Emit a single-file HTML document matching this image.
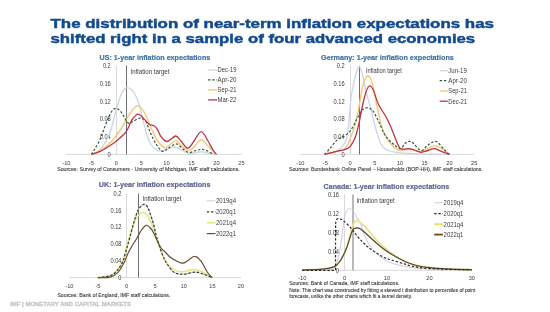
<!DOCTYPE html>
<html><head><meta charset="utf-8"><style>
html,body{margin:0;padding:0;background:#fff;width:550px;height:312px;overflow:hidden}
svg{display:block;will-change:transform}
text{font-family:"Liberation Sans",sans-serif}
</style></head><body>
<svg width="550" height="312" viewBox="0 0 550 312" font-family="Liberation Sans, sans-serif">
<rect width="550" height="312" fill="#ffffff"/>
<text x="50.5" y="28.2" font-size="13.20" fill="#134a8e" text-anchor="start" font-weight="bold" textLength="443.5" lengthAdjust="spacingAndGlyphs" stroke="#134a8e" stroke-width="0.45">The distribution of near-term inflation expectations has</text>
<text x="50.5" y="42.7" font-size="13.20" fill="#134a8e" text-anchor="start" font-weight="bold" textLength="424.7" lengthAdjust="spacingAndGlyphs" stroke="#134a8e" stroke-width="0.45">shifted right in a sample of four advanced economies</text>
<text x="99.6" y="59.9" font-size="7.40" fill="#3f73a6" text-anchor="start" font-weight="bold" textLength="110.7" lengthAdjust="spacingAndGlyphs" stroke="#3f73a6" stroke-width="0.2">US: 1-year inflation expectations</text>
<text x="321.1" y="60.0" font-size="7.40" fill="#3f73a6" text-anchor="start" font-weight="bold" textLength="132.7" lengthAdjust="spacingAndGlyphs" stroke="#3f73a6" stroke-width="0.2">Germany: 1-year inflation expectations</text>
<text x="98.8" y="186.5" font-size="7.40" fill="#5f6596" text-anchor="start" font-weight="bold" textLength="111.7" lengthAdjust="spacingAndGlyphs" stroke="#5f6596" stroke-width="0.2">UK: 1-year inflation expectations</text>
<text x="323.6" y="188.5" font-size="7.40" fill="#5c6892" text-anchor="start" font-weight="bold" textLength="125.7" lengthAdjust="spacingAndGlyphs" stroke="#5c6892" stroke-width="0.2">Canada: 1-year inflation expectations</text>
<line x1="66.4" y1="154.4" x2="241.4" y2="154.4" stroke="#d9d9d9" stroke-width="1.00"/>
<line x1="116.5" y1="65.5" x2="116.5" y2="154.4" stroke="#d9d9d9" stroke-width="1.00"/>
<text x="66.4" y="164.6" font-size="6.20" fill="#404040" text-anchor="middle" font-weight="normal" textLength="8.2" lengthAdjust="spacingAndGlyphs">-10</text>
<text x="91.4" y="164.6" font-size="6.20" fill="#404040" text-anchor="middle" font-weight="normal" textLength="5.1" lengthAdjust="spacingAndGlyphs">-5</text>
<text x="116.4" y="164.6" font-size="6.20" fill="#404040" text-anchor="middle" font-weight="normal" textLength="3.2" lengthAdjust="spacingAndGlyphs">0</text>
<text x="141.4" y="164.6" font-size="6.20" fill="#404040" text-anchor="middle" font-weight="normal" textLength="3.2" lengthAdjust="spacingAndGlyphs">5</text>
<text x="166.4" y="164.6" font-size="6.20" fill="#404040" text-anchor="middle" font-weight="normal" textLength="6.3" lengthAdjust="spacingAndGlyphs">10</text>
<text x="191.4" y="164.6" font-size="6.20" fill="#404040" text-anchor="middle" font-weight="normal" textLength="6.3" lengthAdjust="spacingAndGlyphs">15</text>
<text x="216.4" y="164.6" font-size="6.20" fill="#404040" text-anchor="middle" font-weight="normal" textLength="6.3" lengthAdjust="spacingAndGlyphs">20</text>
<text x="241.4" y="164.6" font-size="6.20" fill="#404040" text-anchor="middle" font-weight="normal" textLength="6.3" lengthAdjust="spacingAndGlyphs">25</text>
<text x="110.8" y="156.6" font-size="6.30" fill="#404040" text-anchor="end" font-weight="normal" textLength="3.2" lengthAdjust="spacingAndGlyphs">0</text>
<text x="110.8" y="138.9" font-size="6.30" fill="#404040" text-anchor="end" font-weight="normal" textLength="11.1" lengthAdjust="spacingAndGlyphs">0.04</text>
<text x="110.8" y="121.3" font-size="6.30" fill="#404040" text-anchor="end" font-weight="normal" textLength="11.1" lengthAdjust="spacingAndGlyphs">0.08</text>
<text x="110.8" y="103.6" font-size="6.30" fill="#404040" text-anchor="end" font-weight="normal" textLength="11.1" lengthAdjust="spacingAndGlyphs">0.12</text>
<text x="110.8" y="86.0" font-size="6.30" fill="#404040" text-anchor="end" font-weight="normal" textLength="11.1" lengthAdjust="spacingAndGlyphs">0.16</text>
<text x="110.8" y="68.3" font-size="6.30" fill="#404040" text-anchor="end" font-weight="normal" textLength="7.9" lengthAdjust="spacingAndGlyphs">0.2</text>
<line x1="126.5" y1="65.5" x2="126.5" y2="154.4" stroke="#6f6f6f" stroke-width="1.00"/>
<text x="130.5" y="73.5" font-size="6.60" fill="#3c3c3c" text-anchor="start" font-weight="normal" textLength="39.0" lengthAdjust="spacingAndGlyphs">Inflation target</text>
<path d="M91.4 154.4 C92.1 154.3 93.9 154.3 95.3 153.6 C96.7 152.9 98.6 151.4 100.0 150.0 C101.4 148.6 102.5 146.6 103.5 145.0 C104.5 143.4 105.3 142.2 106.3 140.4 C107.3 138.7 108.4 136.7 109.3 134.5 C110.2 132.3 110.9 130.1 111.8 127.0 C112.7 123.9 113.4 119.9 114.5 116.0 C115.6 112.1 117.0 107.2 118.2 103.5 C119.4 99.8 120.1 96.1 121.5 93.5 C122.9 90.9 125.0 88.3 126.8 87.7 C128.6 87.1 130.5 88.6 132.0 90.0 C133.5 91.4 134.6 93.3 135.8 96.0 C137.1 98.7 138.3 102.0 139.5 106.0 C140.7 110.0 141.9 115.5 143.0 120.0 C144.1 124.5 145.0 129.2 146.2 133.0 C147.4 136.8 148.5 140.0 150.0 142.7 C151.5 145.4 153.2 147.6 155.0 149.0 C156.8 150.4 158.8 151.2 161.0 151.2 C163.2 151.2 165.6 149.7 168.0 149.0 C170.4 148.3 173.1 146.7 175.6 147.0 C178.1 147.3 180.6 149.9 183.0 151.0 C185.4 152.1 187.9 153.5 190.2 153.7 C192.5 153.9 195.0 152.5 197.0 152.2 C199.0 151.9 200.4 151.6 202.4 151.8 C204.4 152.0 206.9 153.0 209.0 153.4 C211.1 153.8 214.0 154.2 215.0 154.4" fill="none" stroke="#c9d6e6" stroke-width="1.30" stroke-linejoin="round" stroke-linecap="butt" opacity="1.00"/>
<path d="M91.4 154.4 C92.8 153.8 97.6 151.9 100.0 150.6 C102.4 149.3 103.9 148.2 106.0 146.5 C108.1 144.8 109.9 143.4 112.4 140.5 C114.9 137.6 118.6 132.5 120.9 129.0 C123.2 125.5 124.6 122.3 126.3 119.5 C128.0 116.7 129.3 114.2 131.0 112.0 C132.7 109.8 135.1 107.1 136.6 106.2 C138.1 105.3 138.6 105.6 140.0 106.8 C141.4 108.0 143.3 110.3 145.0 113.5 C146.7 116.7 148.2 121.5 150.3 126.0 C152.4 130.5 154.9 136.9 157.3 140.5 C159.7 144.1 162.5 146.9 164.6 147.6 C166.7 148.3 168.1 145.6 170.0 144.5 C171.9 143.4 174.0 140.5 176.2 140.9 C178.4 141.3 180.9 145.4 183.0 147.0 C185.1 148.6 187.0 150.8 189.0 150.6 C191.0 150.4 193.0 147.8 195.0 146.0 C197.0 144.2 199.0 139.7 201.2 139.7 C203.4 139.7 205.8 143.8 208.0 146.0 C210.2 148.2 213.3 151.6 214.6 153.0 C215.8 154.4 215.3 154.2 215.5 154.4" fill="none" stroke="#f4c777" stroke-width="1.40" stroke-linejoin="round" stroke-linecap="butt" opacity="1.00"/>
<path d="M91.4 154.4 C91.9 153.6 93.3 151.5 94.5 149.5 C95.7 147.5 97.3 144.8 98.5 142.5 C99.7 140.2 100.6 138.2 101.5 136.0 C102.4 133.8 102.6 132.6 103.8 129.5 C105.0 126.4 107.1 120.6 108.5 117.5 C109.9 114.4 110.8 112.5 112.0 111.0 C113.2 109.5 114.5 108.3 115.8 108.3 C117.1 108.3 118.6 109.4 120.0 110.8 C121.4 112.2 122.6 114.4 124.0 116.5 C125.4 118.6 127.0 122.4 128.5 123.2 C130.0 124.0 131.2 122.3 133.0 121.5 C134.8 120.7 137.4 118.1 139.5 118.1 C141.6 118.0 143.8 118.7 145.6 121.2 C147.4 123.7 148.8 129.2 150.5 133.0 C152.2 136.8 154.2 140.9 156.1 143.9 C158.0 146.9 160.2 150.4 162.2 151.2 C164.2 152.0 165.7 149.7 168.0 148.5 C170.3 147.3 173.7 143.8 176.2 143.9 C178.7 144.0 180.9 147.6 183.0 149.0 C185.1 150.4 186.8 152.2 189.0 152.5 C191.2 152.8 193.8 151.0 196.0 150.5 C198.2 150.0 200.4 149.3 202.4 149.4 C204.4 149.5 206.2 150.4 208.0 151.2 C209.8 152.0 212.4 153.8 213.3 154.3" fill="none" stroke="#2f5a3e" stroke-width="1.20" stroke-dasharray="2.4 1.8" stroke-linejoin="round" stroke-linecap="butt" opacity="1.00"/>
<path d="M91.4 154.4 C92.9 153.9 96.7 153.1 100.2 151.4 C103.7 149.7 109.4 146.0 112.4 144.0 C115.5 142.0 116.4 141.0 118.5 139.2 C120.6 137.4 123.3 135.1 124.9 133.3 C126.5 131.5 126.8 130.8 128.0 128.5 C129.2 126.2 130.5 121.9 132.2 119.5 C133.9 117.1 136.2 114.2 138.2 114.2 C140.2 114.2 142.6 117.7 144.4 119.4 C146.2 121.1 147.5 123.1 149.2 124.2 C150.9 125.3 153.0 125.0 154.5 126.0 C156.0 127.0 156.9 128.7 158.0 130.5 C159.1 132.3 159.5 134.8 161.0 136.6 C162.5 138.4 164.6 141.6 167.0 141.5 C169.4 141.4 173.3 136.1 175.6 136.0 C177.9 135.9 179.0 139.0 181.0 141.0 C183.0 143.0 185.6 148.2 187.8 148.2 C190.0 148.2 191.8 143.8 194.0 141.0 C196.2 138.2 198.9 131.7 201.2 131.7 C203.5 131.7 206.0 137.9 208.0 141.0 C210.0 144.1 211.6 147.8 213.0 150.0 C214.4 152.2 215.9 153.7 216.5 154.4" fill="none" stroke="#bf3345" stroke-width="1.30" stroke-linejoin="round" stroke-linecap="butt" opacity="1.00"/>
<line x1="208.1" y1="70.1" x2="217.3" y2="70.1" stroke="#c9d6e6" stroke-width="1.30"/>
<text x="217.6" y="72.4" font-size="6.60" fill="#3c3c3c" text-anchor="start" font-weight="normal" textLength="18.8" lengthAdjust="spacingAndGlyphs">Dec-19</text>
<line x1="208.1" y1="79.9" x2="217.3" y2="79.9" stroke="#2f5a3e" stroke-width="1.20" stroke-dasharray="2.4 1.8"/>
<text x="217.6" y="82.2" font-size="6.60" fill="#3c3c3c" text-anchor="start" font-weight="normal" textLength="18.8" lengthAdjust="spacingAndGlyphs">Apr-20</text>
<line x1="208.1" y1="89.9" x2="217.3" y2="89.9" stroke="#f4c777" stroke-width="1.40"/>
<text x="217.6" y="92.2" font-size="6.60" fill="#3c3c3c" text-anchor="start" font-weight="normal" textLength="18.8" lengthAdjust="spacingAndGlyphs">Sep-21</text>
<line x1="208.1" y1="99.9" x2="217.3" y2="99.9" stroke="#bf3345" stroke-width="1.30"/>
<text x="217.6" y="102.2" font-size="6.60" fill="#3c3c3c" text-anchor="start" font-weight="normal" textLength="18.8" lengthAdjust="spacingAndGlyphs">Mar-22</text>
<text x="57.2" y="171.2" font-size="5.80" fill="#3c3c3c" text-anchor="start" font-weight="normal" textLength="182.6" lengthAdjust="spacingAndGlyphs" stroke="#3c3c3c" stroke-width="0.12">Sources: Survey of Consumers - University of Michigan, IMF staff calculations.</text>
<line x1="300.4" y1="154.4" x2="474.2" y2="154.4" stroke="#d9d9d9" stroke-width="1.00"/>
<line x1="350.5" y1="65.8" x2="350.5" y2="154.4" stroke="#d9d9d9" stroke-width="1.00"/>
<text x="300.4" y="164.8" font-size="6.20" fill="#404040" text-anchor="middle" font-weight="normal" textLength="8.2" lengthAdjust="spacingAndGlyphs">-10</text>
<text x="325.3" y="164.8" font-size="6.20" fill="#404040" text-anchor="middle" font-weight="normal" textLength="5.1" lengthAdjust="spacingAndGlyphs">-5</text>
<text x="350.1" y="164.8" font-size="6.20" fill="#404040" text-anchor="middle" font-weight="normal" textLength="3.2" lengthAdjust="spacingAndGlyphs">0</text>
<text x="374.9" y="164.8" font-size="6.20" fill="#404040" text-anchor="middle" font-weight="normal" textLength="3.2" lengthAdjust="spacingAndGlyphs">5</text>
<text x="399.8" y="164.8" font-size="6.20" fill="#404040" text-anchor="middle" font-weight="normal" textLength="6.3" lengthAdjust="spacingAndGlyphs">10</text>
<text x="424.6" y="164.8" font-size="6.20" fill="#404040" text-anchor="middle" font-weight="normal" textLength="6.3" lengthAdjust="spacingAndGlyphs">15</text>
<text x="449.4" y="164.8" font-size="6.20" fill="#404040" text-anchor="middle" font-weight="normal" textLength="6.3" lengthAdjust="spacingAndGlyphs">20</text>
<text x="474.2" y="164.8" font-size="6.20" fill="#404040" text-anchor="middle" font-weight="normal" textLength="6.3" lengthAdjust="spacingAndGlyphs">25</text>
<text x="344.6" y="156.6" font-size="6.30" fill="#404040" text-anchor="end" font-weight="normal" textLength="3.2" lengthAdjust="spacingAndGlyphs">0</text>
<text x="344.6" y="138.9" font-size="6.30" fill="#404040" text-anchor="end" font-weight="normal" textLength="11.1" lengthAdjust="spacingAndGlyphs">0.04</text>
<text x="344.6" y="121.3" font-size="6.30" fill="#404040" text-anchor="end" font-weight="normal" textLength="11.1" lengthAdjust="spacingAndGlyphs">0.08</text>
<text x="344.6" y="103.6" font-size="6.30" fill="#404040" text-anchor="end" font-weight="normal" textLength="11.1" lengthAdjust="spacingAndGlyphs">0.12</text>
<text x="344.6" y="86.0" font-size="6.30" fill="#404040" text-anchor="end" font-weight="normal" textLength="11.1" lengthAdjust="spacingAndGlyphs">0.16</text>
<text x="344.6" y="68.3" font-size="6.30" fill="#404040" text-anchor="end" font-weight="normal" textLength="7.9" lengthAdjust="spacingAndGlyphs">0.2</text>
<line x1="359.5" y1="65.8" x2="359.5" y2="154.4" stroke="#6f6f6f" stroke-width="1.00"/>
<text x="365.9" y="72.6" font-size="6.60" fill="#3c3c3c" text-anchor="start" font-weight="normal" textLength="35.9" lengthAdjust="spacingAndGlyphs">Inflation target</text>
<path d="M324.6 154.4 C325.8 154.2 329.6 154.0 332.0 153.2 C334.4 152.4 337.3 150.9 339.2 149.5 C341.1 148.1 342.3 146.8 343.5 145.0 C344.7 143.2 345.7 141.8 346.5 139.0 C347.3 136.2 347.8 131.7 348.3 128.0 C348.8 124.3 348.9 121.3 349.3 117.0 C349.7 112.7 350.1 106.3 350.6 102.0 C351.1 97.7 351.5 94.8 352.2 91.0 C352.9 87.2 353.8 82.4 354.6 79.0 C355.4 75.6 356.3 72.6 357.0 70.5 C357.7 68.4 358.3 66.3 359.0 66.2 C359.7 66.1 360.3 68.1 361.0 70.0 C361.7 71.9 362.5 74.5 363.2 77.5 C363.9 80.5 364.6 84.8 365.3 88.0 C366.0 91.2 366.6 93.2 367.6 97.0 C368.6 100.8 370.2 106.5 371.3 111.0 C372.4 115.5 373.5 120.2 374.5 124.0 C375.5 127.8 376.3 130.7 377.4 134.0 C378.5 137.3 379.6 141.5 380.9 144.0 C382.2 146.5 383.8 147.7 385.0 148.8 C386.2 149.9 386.7 150.0 388.2 150.5 C389.7 151.0 392.0 151.6 394.0 152.0 C396.0 152.4 396.1 152.5 400.4 152.8 C404.7 153.1 411.8 153.5 420.0 153.8 C428.2 154.1 444.5 154.3 449.4 154.4" fill="none" stroke="#c9d6e6" stroke-width="1.30" stroke-linejoin="round" stroke-linecap="butt" opacity="1.00"/>
<path d="M324.6 154.4 C326.3 154.0 332.3 152.7 335.0 152.0 C337.7 151.3 339.3 151.1 341.0 150.5 C342.7 149.9 343.8 150.4 345.3 148.5 C346.8 146.6 348.6 143.0 350.2 139.0 C351.8 135.0 353.8 129.1 355.1 124.4 C356.4 119.7 357.0 117.1 358.2 111.0 C359.4 104.9 361.2 93.2 362.3 88.0 C363.4 82.8 364.1 81.5 365.0 79.5 C365.9 77.5 366.8 76.2 367.7 76.0 C368.6 75.8 369.4 76.2 370.3 78.0 C371.2 79.8 372.1 82.9 373.0 86.5 C373.9 90.1 374.7 95.0 375.6 99.5 C376.5 104.0 377.5 108.5 378.6 113.3 C379.7 118.1 380.6 124.0 382.2 128.5 C383.8 133.0 386.2 137.4 388.2 140.5 C390.2 143.6 392.2 145.4 394.0 147.0 C395.8 148.6 396.6 149.9 399.1 150.3 C401.6 150.7 405.2 149.0 408.9 149.2 C412.6 149.4 417.9 151.6 421.1 151.5 C424.3 151.4 425.8 149.5 428.0 148.5 C430.2 147.5 432.2 145.6 434.5 145.6 C436.8 145.6 439.3 147.1 441.8 148.6 C444.3 150.1 448.1 153.4 449.4 154.4" fill="none" stroke="#f4c777" stroke-width="1.40" stroke-linejoin="round" stroke-linecap="butt" opacity="1.00"/>
<path d="M324.6 154.4 C325.6 153.3 328.8 149.9 330.7 147.6 C332.6 145.3 334.5 142.5 336.2 140.8 C337.9 139.1 339.5 138.4 341.0 137.5 C342.5 136.6 343.6 136.8 345.3 135.4 C347.0 134.0 349.5 132.0 351.4 129.3 C353.3 126.6 355.0 122.5 356.7 119.4 C358.4 116.3 359.9 112.7 361.5 110.8 C363.1 108.9 364.9 108.1 366.4 107.8 C367.9 107.5 369.3 108.1 370.5 108.8 C371.7 109.5 372.3 109.9 373.7 112.0 C375.1 114.1 376.9 118.0 378.6 121.5 C380.3 125.0 382.4 130.2 384.0 133.2 C385.6 136.2 386.8 137.6 388.5 139.5 C390.2 141.4 392.3 143.3 394.3 144.8 C396.3 146.3 398.6 148.8 400.4 148.6 C402.2 148.4 403.6 144.7 405.0 143.5 C406.4 142.3 407.6 141.4 408.9 141.3 C410.2 141.2 411.0 141.5 413.0 143.0 C415.0 144.5 418.6 150.2 421.1 150.5 C423.6 150.8 425.6 146.5 428.0 145.0 C430.4 143.5 433.4 141.0 435.7 141.3 C438.0 141.6 440.1 145.1 441.8 146.8 C443.5 148.5 444.7 150.2 446.0 151.5 C447.3 152.8 448.8 153.9 449.4 154.4" fill="none" stroke="#2f5a3e" stroke-width="1.20" stroke-dasharray="2.4 1.8" stroke-linejoin="round" stroke-linecap="butt" opacity="1.00"/>
<path d="M324.6 154.4 C326.2 154.0 330.9 152.6 334.4 151.8 C337.8 151.0 342.7 150.3 345.3 149.4 C347.9 148.5 348.6 148.3 350.2 146.4 C351.8 144.5 353.7 141.5 355.1 137.8 C356.5 134.1 357.6 129.0 358.7 124.4 C359.8 119.9 360.4 115.7 361.5 110.5 C362.6 105.3 364.2 97.6 365.5 93.5 C366.8 89.4 368.0 86.5 369.3 86.0 C370.6 85.5 372.0 87.4 373.5 90.5 C375.0 93.6 376.4 100.2 378.5 104.5 C380.6 108.8 383.8 112.8 385.8 116.5 C387.9 120.2 389.4 123.5 390.8 126.7 C392.2 129.9 393.2 133.0 394.3 135.8 C395.4 138.6 396.5 141.4 397.5 143.5 C398.5 145.6 399.3 147.7 400.4 148.6 C401.5 149.5 402.6 149.2 404.0 149.2 C405.4 149.2 407.2 148.5 408.9 148.6 C410.6 148.7 412.0 149.4 414.0 150.0 C416.0 150.6 418.8 152.2 421.1 152.3 C423.4 152.4 425.8 151.1 428.0 150.5 C430.2 149.9 432.2 148.4 434.5 148.6 C436.8 148.8 439.3 150.7 441.8 151.7 C444.3 152.7 448.1 153.9 449.4 154.4" fill="none" stroke="#bf3345" stroke-width="1.30" stroke-linejoin="round" stroke-linecap="butt" opacity="1.00"/>
<line x1="439.7" y1="70.7" x2="447.8" y2="70.7" stroke="#c9d6e6" stroke-width="1.30"/>
<text x="448.3" y="73.0" font-size="6.60" fill="#3c3c3c" text-anchor="start" font-weight="normal" textLength="18.6" lengthAdjust="spacingAndGlyphs">Jun-19</text>
<line x1="439.7" y1="80.7" x2="447.8" y2="80.7" stroke="#2f5a3e" stroke-width="1.20" stroke-dasharray="2.4 1.8"/>
<text x="448.3" y="83.0" font-size="6.60" fill="#3c3c3c" text-anchor="start" font-weight="normal" textLength="18.6" lengthAdjust="spacingAndGlyphs">Apr-20</text>
<line x1="439.7" y1="91.0" x2="447.8" y2="91.0" stroke="#f4c777" stroke-width="1.40"/>
<text x="448.3" y="93.3" font-size="6.60" fill="#3c3c3c" text-anchor="start" font-weight="normal" textLength="18.6" lengthAdjust="spacingAndGlyphs">Sep-21</text>
<line x1="439.7" y1="101.2" x2="447.8" y2="101.2" stroke="#bf3345" stroke-width="1.30"/>
<text x="448.3" y="103.5" font-size="6.60" fill="#3c3c3c" text-anchor="start" font-weight="normal" textLength="18.6" lengthAdjust="spacingAndGlyphs">Dec-21</text>
<text x="289.0" y="171.2" font-size="5.80" fill="#3c3c3c" text-anchor="start" font-weight="normal" textLength="193.8" lengthAdjust="spacingAndGlyphs" stroke="#3c3c3c" stroke-width="0.12">Sources: Bundesbank Online Panel – Households (BOP-HH), IMF staff calculations.</text>
<line x1="69.4" y1="277.6" x2="241.0" y2="277.6" stroke="#d9d9d9" stroke-width="1.00"/>
<line x1="126.5" y1="193.5" x2="126.5" y2="277.6" stroke="#d9d9d9" stroke-width="1.00"/>
<text x="69.4" y="287.9" font-size="6.20" fill="#404040" text-anchor="middle" font-weight="normal" textLength="8.2" lengthAdjust="spacingAndGlyphs">-10</text>
<text x="98.0" y="287.9" font-size="6.20" fill="#404040" text-anchor="middle" font-weight="normal" textLength="5.1" lengthAdjust="spacingAndGlyphs">-5</text>
<text x="126.6" y="287.9" font-size="6.20" fill="#404040" text-anchor="middle" font-weight="normal" textLength="3.2" lengthAdjust="spacingAndGlyphs">0</text>
<text x="155.2" y="287.9" font-size="6.20" fill="#404040" text-anchor="middle" font-weight="normal" textLength="3.2" lengthAdjust="spacingAndGlyphs">5</text>
<text x="183.8" y="287.9" font-size="6.20" fill="#404040" text-anchor="middle" font-weight="normal" textLength="6.3" lengthAdjust="spacingAndGlyphs">10</text>
<text x="212.4" y="287.9" font-size="6.20" fill="#404040" text-anchor="middle" font-weight="normal" textLength="6.3" lengthAdjust="spacingAndGlyphs">15</text>
<text x="241.0" y="287.9" font-size="6.20" fill="#404040" text-anchor="middle" font-weight="normal" textLength="6.3" lengthAdjust="spacingAndGlyphs">20</text>
<text x="121.5" y="279.8" font-size="6.30" fill="#404040" text-anchor="end" font-weight="normal" textLength="3.2" lengthAdjust="spacingAndGlyphs">0</text>
<text x="121.5" y="263.0" font-size="6.30" fill="#404040" text-anchor="end" font-weight="normal" textLength="11.1" lengthAdjust="spacingAndGlyphs">0.04</text>
<text x="121.5" y="246.2" font-size="6.30" fill="#404040" text-anchor="end" font-weight="normal" textLength="11.1" lengthAdjust="spacingAndGlyphs">0.08</text>
<text x="121.5" y="229.3" font-size="6.30" fill="#404040" text-anchor="end" font-weight="normal" textLength="11.1" lengthAdjust="spacingAndGlyphs">0.12</text>
<text x="121.5" y="212.5" font-size="6.30" fill="#404040" text-anchor="end" font-weight="normal" textLength="11.1" lengthAdjust="spacingAndGlyphs">0.16</text>
<text x="121.5" y="195.7" font-size="6.30" fill="#404040" text-anchor="end" font-weight="normal" textLength="7.9" lengthAdjust="spacingAndGlyphs">0.2</text>
<line x1="138.5" y1="193.5" x2="138.5" y2="277.6" stroke="#6f6f6f" stroke-width="1.00"/>
<text x="142.5" y="200.9" font-size="6.60" fill="#3c3c3c" text-anchor="start" font-weight="normal" textLength="39.0" lengthAdjust="spacingAndGlyphs">Inflation target</text>
<path d="M97.8 277.6 C99.2 277.4 103.6 277.1 106.0 276.6 C108.4 276.1 110.4 276.0 112.4 274.8 C114.4 273.6 116.3 271.7 118.0 269.5 C119.7 267.3 121.5 264.6 122.8 261.5 C124.1 258.4 124.8 254.9 126.0 251.0 C127.2 247.1 128.4 242.8 129.7 238.0 C131.0 233.2 132.6 226.7 134.0 222.0 C135.4 217.3 136.7 212.6 138.3 209.7 C139.9 206.8 142.3 204.8 143.8 204.3 C145.3 203.9 146.4 205.3 147.5 207.0 C148.6 208.7 149.5 211.8 150.5 214.6 C151.5 217.4 152.5 220.3 153.5 224.0 C154.5 227.7 155.1 231.5 156.5 236.5 C157.9 241.5 160.4 249.5 162.2 254.1 C163.9 258.6 165.0 260.7 167.0 263.8 C169.0 266.9 171.6 270.8 174.4 272.5 C177.2 274.2 180.7 274.3 184.1 274.2 C187.5 274.1 191.8 272.1 195.0 272.1 C198.2 272.1 200.8 273.3 203.6 274.2 C206.4 275.1 210.7 277.0 212.1 277.6" fill="none" stroke="#d0d0d0" stroke-width="1.20" stroke-linejoin="round" stroke-linecap="butt" opacity="1.00"/>
<path d="M97.8 277.6 C99.2 277.4 103.6 276.9 106.0 276.4 C108.4 275.9 110.4 275.6 112.4 274.4 C114.4 273.2 116.3 271.3 118.0 269.0 C119.7 266.7 121.5 263.9 122.8 260.8 C124.1 257.7 125.0 254.3 126.0 250.5 C127.0 246.7 127.8 242.4 129.1 238.0 C130.3 233.6 132.0 227.8 133.5 224.0 C135.0 220.2 136.8 217.5 138.3 215.5 C139.8 213.5 141.1 212.4 142.5 212.2 C143.9 212.0 145.2 213.1 146.5 214.5 C147.8 215.9 148.8 216.8 150.5 220.7 C152.2 224.6 154.8 233.1 156.5 238.0 C158.2 242.9 159.7 246.5 161.0 250.0 C162.3 253.5 163.1 256.3 164.5 259.0 C165.9 261.7 167.6 264.4 169.5 266.3 C171.4 268.2 173.8 269.7 176.0 270.6 C178.2 271.5 180.0 272.0 182.9 271.8 C185.8 271.6 190.2 269.4 193.5 269.4 C196.8 269.4 199.3 270.6 202.4 272.0 C205.5 273.4 210.5 276.7 212.1 277.6" fill="none" stroke="#e2e878" stroke-width="1.50" stroke-linejoin="round" stroke-linecap="butt" opacity="1.00"/>
<path d="M97.8 277.6 C99.2 277.4 103.6 277.1 106.0 276.6 C108.4 276.1 110.4 276.0 112.4 274.8 C114.4 273.6 116.3 271.7 118.0 269.5 C119.7 267.3 121.5 264.6 122.8 261.5 C124.1 258.4 124.8 254.9 126.0 251.0 C127.2 247.1 128.4 242.8 129.7 238.0 C131.0 233.2 132.6 226.7 134.0 222.0 C135.4 217.3 136.7 212.6 138.3 209.7 C139.9 206.8 142.3 204.8 143.8 204.3 C145.3 203.9 146.4 205.3 147.5 207.0 C148.6 208.7 149.5 211.8 150.5 214.6 C151.5 217.4 152.5 220.3 153.5 224.0 C154.5 227.7 155.1 231.5 156.5 236.5 C157.9 241.5 160.4 249.5 162.2 254.1 C163.9 258.6 165.0 260.7 167.0 263.8 C169.0 266.9 171.6 270.8 174.4 272.5 C177.2 274.2 180.7 274.3 184.1 274.2 C187.5 274.1 191.8 272.1 195.0 272.1 C198.2 272.1 200.8 273.3 203.6 274.2 C206.4 275.1 210.7 277.0 212.1 277.6" fill="none" stroke="#2e3a40" stroke-width="1.20" stroke-dasharray="2.4 1.8" stroke-linejoin="round" stroke-linecap="butt" opacity="1.00"/>
<path d="M97.8 277.6 C99.8 277.5 106.6 278.1 110.0 277.2 C113.4 276.3 115.6 274.9 118.0 272.4 C120.4 269.9 122.8 265.1 124.4 262.0 C126.0 258.9 126.4 256.7 127.7 254.0 C129.0 251.3 130.4 248.7 132.0 246.0 C133.6 243.3 135.4 240.7 137.0 238.0 C138.6 235.3 140.0 232.1 141.5 230.0 C143.0 227.9 144.8 225.7 146.2 225.3 C147.6 224.9 148.8 226.5 149.9 227.5 C151.0 228.5 151.7 229.3 152.9 231.5 C154.1 233.7 155.8 238.1 157.2 240.8 C158.5 243.6 159.6 246.1 161.0 248.0 C162.4 249.9 164.2 251.0 165.7 252.5 C167.2 254.0 168.0 255.4 170.0 257.0 C172.0 258.6 175.8 260.8 177.9 261.8 C180.1 262.8 181.2 263.4 182.9 263.2 C184.6 263.0 186.0 261.6 188.0 260.5 C190.0 259.4 192.5 256.2 194.7 256.4 C196.9 256.5 199.1 258.8 201.2 261.4 C203.3 264.0 205.4 269.3 207.2 272.0 C209.0 274.7 211.3 276.7 212.1 277.6" fill="none" stroke="#6a4a3a" stroke-width="1.20" stroke-linejoin="round" stroke-linecap="butt" opacity="1.00"/>
<line x1="206.8" y1="200.8" x2="215.5" y2="200.8" stroke="#d0d0d0" stroke-width="1.00"/>
<text x="216.0" y="203.1" font-size="6.60" fill="#3c3c3c" text-anchor="start" font-weight="normal" textLength="20.0" lengthAdjust="spacingAndGlyphs">2019q4</text>
<line x1="206.8" y1="211.9" x2="215.5" y2="211.9" stroke="#2e3a40" stroke-width="1.20" stroke-dasharray="2.4 1.8"/>
<text x="216.0" y="214.2" font-size="6.60" fill="#3c3c3c" text-anchor="start" font-weight="normal" textLength="20.0" lengthAdjust="spacingAndGlyphs">2020q1</text>
<line x1="206.8" y1="222.7" x2="215.5" y2="222.7" stroke="#e2e878" stroke-width="1.50"/>
<text x="216.0" y="225.0" font-size="6.60" fill="#3c3c3c" text-anchor="start" font-weight="normal" textLength="20.0" lengthAdjust="spacingAndGlyphs">2021q4</text>
<line x1="206.8" y1="233.6" x2="215.5" y2="233.6" stroke="#6a4a3a" stroke-width="1.20"/>
<text x="216.0" y="235.9" font-size="6.60" fill="#3c3c3c" text-anchor="start" font-weight="normal" textLength="20.0" lengthAdjust="spacingAndGlyphs">2022q1</text>
<text x="57.4" y="297.0" font-size="5.80" fill="#3c3c3c" text-anchor="start" font-weight="normal" textLength="113.0" lengthAdjust="spacingAndGlyphs" stroke="#3c3c3c" stroke-width="0.12">Sources: Bank of England, IMF staff calculations.</text>
<line x1="302.2" y1="270.3" x2="471.8" y2="270.3" stroke="#d9d9d9" stroke-width="1.00"/>
<line x1="344.5" y1="194.5" x2="344.5" y2="270.3" stroke="#d9d9d9" stroke-width="1.00"/>
<text x="302.2" y="280.4" font-size="6.20" fill="#404040" text-anchor="middle" font-weight="normal" textLength="8.2" lengthAdjust="spacingAndGlyphs">-10</text>
<text x="344.6" y="280.4" font-size="6.20" fill="#404040" text-anchor="middle" font-weight="normal" textLength="3.2" lengthAdjust="spacingAndGlyphs">0</text>
<text x="387.0" y="280.4" font-size="6.20" fill="#404040" text-anchor="middle" font-weight="normal" textLength="6.3" lengthAdjust="spacingAndGlyphs">10</text>
<text x="429.4" y="280.4" font-size="6.20" fill="#404040" text-anchor="middle" font-weight="normal" textLength="6.3" lengthAdjust="spacingAndGlyphs">20</text>
<text x="471.8" y="280.4" font-size="6.20" fill="#404040" text-anchor="middle" font-weight="normal" textLength="6.3" lengthAdjust="spacingAndGlyphs">30</text>
<text x="339.0" y="272.5" font-size="6.30" fill="#404040" text-anchor="end" font-weight="normal" textLength="3.2" lengthAdjust="spacingAndGlyphs">0</text>
<text x="339.0" y="253.6" font-size="6.30" fill="#404040" text-anchor="end" font-weight="normal" textLength="11.1" lengthAdjust="spacingAndGlyphs">0.04</text>
<text x="339.0" y="234.7" font-size="6.30" fill="#404040" text-anchor="end" font-weight="normal" textLength="11.1" lengthAdjust="spacingAndGlyphs">0.08</text>
<text x="339.0" y="215.8" font-size="6.30" fill="#404040" text-anchor="end" font-weight="normal" textLength="11.1" lengthAdjust="spacingAndGlyphs">0.12</text>
<text x="339.0" y="196.9" font-size="6.30" fill="#404040" text-anchor="end" font-weight="normal" textLength="11.1" lengthAdjust="spacingAndGlyphs">0.16</text>
<line x1="353.0" y1="194.5" x2="353.0" y2="270.3" stroke="#a6a6a6" stroke-width="1.60"/>
<text x="356.4" y="203.4" font-size="6.60" fill="#3c3c3c" text-anchor="start" font-weight="normal" textLength="38.3" lengthAdjust="spacingAndGlyphs">Inflation target</text>
<path d="M302.2 270.3 C306.0 270.3 320.0 270.4 325.0 270.2 C330.0 270.0 330.1 270.0 332.0 269.0 C333.9 268.0 335.1 266.5 336.2 264.2 C337.3 261.9 338.1 258.0 338.8 255.0 C339.5 252.0 340.0 249.2 340.5 246.0 C341.0 242.8 341.5 239.7 342.0 236.0 C342.5 232.3 343.0 227.6 343.5 224.0 C344.0 220.4 344.4 217.1 345.2 214.5 C346.0 211.9 347.4 209.4 348.4 208.6 C349.4 207.8 350.3 208.8 351.3 209.5 C352.3 210.2 352.7 210.5 354.2 212.8 C355.7 215.1 358.5 219.4 360.3 223.3 C362.1 227.2 363.0 232.2 365.0 236.5 C367.0 240.8 369.2 245.6 372.3 249.4 C375.4 253.2 380.0 256.8 383.3 259.1 C386.6 261.4 388.7 262.1 392.2 263.3 C395.7 264.5 399.8 265.4 404.4 266.3 C409.0 267.2 413.2 267.9 420.0 268.5 C426.8 269.1 436.4 269.4 445.0 269.7 C453.6 270.0 467.3 270.0 471.8 270.1" fill="none" stroke="#cfc6e6" stroke-width="1.00" stroke-linejoin="round" stroke-linecap="butt" opacity="1.00"/>
<path d="M302.2 270.0 C305.5 269.9 316.8 269.8 322.2 269.2 C327.6 268.6 331.3 268.1 334.4 266.6 C337.4 265.2 338.5 263.6 340.5 260.5 C342.5 257.4 344.9 252.3 346.5 248.2 C348.1 244.1 349.1 239.6 350.0 236.0 C350.9 232.4 351.2 229.1 352.2 226.5 C353.2 223.9 354.8 221.3 356.1 220.6 C357.4 219.9 358.3 221.2 360.0 222.5 C361.7 223.8 363.5 225.0 366.4 228.1 C369.3 231.2 373.4 236.9 377.2 240.8 C381.0 244.8 384.9 248.4 389.4 251.8 C393.9 255.2 399.9 259.2 404.4 261.5 C408.9 263.8 412.2 264.5 416.5 265.5 C420.8 266.5 425.1 267.1 430.0 267.6 C434.9 268.2 438.8 268.5 445.8 268.8 C452.8 269.1 467.5 269.5 471.8 269.6" fill="none" stroke="#e9e18a" stroke-width="1.80" stroke-linejoin="round" stroke-linecap="butt" opacity="1.00"/>
<path d="M302.2 270.0 C305.5 269.9 316.8 269.8 322.2 269.2 C327.6 268.6 331.3 268.1 334.4 266.6 C337.4 265.2 338.5 263.6 340.5 260.5 C342.5 257.4 344.8 252.3 346.5 248.2 C348.2 244.1 349.4 239.1 350.5 236.0 C351.6 232.9 351.9 230.9 353.0 229.5 C354.1 228.1 356.0 227.9 357.3 227.8 C358.6 227.8 359.7 228.4 361.0 229.2 C362.3 230.0 362.5 230.4 365.2 232.8 C367.9 235.2 373.2 240.4 377.2 243.8 C381.2 247.2 384.7 250.1 389.4 253.0 C394.1 255.9 400.7 259.4 405.2 261.5 C409.7 263.6 412.4 264.5 416.5 265.5 C420.6 266.5 425.1 267.1 430.0 267.6 C434.9 268.2 438.8 268.5 445.8 268.8 C452.8 269.1 467.5 269.5 471.8 269.6" fill="none" stroke="#5a4630" stroke-width="1.20" stroke-linejoin="round" stroke-linecap="butt" opacity="1.00"/>
<path d="M302.2 270.3 L335.5 270.3 L335.6 224" fill="none" stroke="#2a2a2a" stroke-width="1.2" stroke-dasharray="2.4 1.8"/>
<path d="M335.6 224.0 C335.8 223.2 335.9 220.4 336.5 219.5 C337.1 218.6 337.9 218.6 339.0 218.8 C340.1 219.0 341.4 219.1 343.3 220.6 C345.2 222.1 348.4 225.3 350.6 227.8 C352.8 230.3 354.7 233.1 356.7 235.5 C358.7 237.9 360.9 240.3 362.8 242.2 C364.7 244.1 365.8 245.3 368.0 247.0 C370.2 248.7 373.1 250.8 375.8 252.5 C378.5 254.2 381.3 256.2 384.0 257.5 C386.7 258.8 388.8 259.1 392.2 260.2 C395.6 261.3 401.1 262.9 404.4 263.9 C407.6 264.9 407.4 265.3 411.7 266.1 C416.0 266.9 420.0 268.0 430.0 268.6 C440.0 269.2 464.8 269.8 471.8 270.0" fill="none" stroke="#2a2a2a" stroke-width="1.20" stroke-dasharray="2.4 1.8" stroke-linejoin="round" stroke-linecap="butt" opacity="1.00"/>
<line x1="434.2" y1="202.8" x2="442.9" y2="202.8" stroke="#d8c8e6" stroke-width="1.00"/>
<text x="443.6" y="205.1" font-size="6.60" fill="#3c3c3c" text-anchor="start" font-weight="normal" textLength="19.8" lengthAdjust="spacingAndGlyphs">2019q4</text>
<line x1="434.2" y1="213.6" x2="442.9" y2="213.6" stroke="#2a2a2a" stroke-width="1.20" stroke-dasharray="2.4 1.8"/>
<text x="443.6" y="215.9" font-size="6.60" fill="#3c3c3c" text-anchor="start" font-weight="normal" textLength="19.8" lengthAdjust="spacingAndGlyphs">2020q1</text>
<line x1="434.2" y1="224.3" x2="442.9" y2="224.3" stroke="#e6e070" stroke-width="2.00"/>
<text x="443.6" y="226.6" font-size="6.60" fill="#3c3c3c" text-anchor="start" font-weight="normal" textLength="19.8" lengthAdjust="spacingAndGlyphs">2021q4</text>
<line x1="434.2" y1="234.6" x2="442.9" y2="234.6" stroke="#5e4a2e" stroke-width="1.80"/>
<text x="443.6" y="236.9" font-size="6.60" fill="#3c3c3c" text-anchor="start" font-weight="normal" textLength="19.8" lengthAdjust="spacingAndGlyphs">2022q1</text>
<text x="289.2" y="285.4" font-size="5.80" fill="#3c3c3c" text-anchor="start" font-weight="normal" textLength="110.2" lengthAdjust="spacingAndGlyphs" stroke="#3c3c3c" stroke-width="0.12">Sources: Bank of Canada, IMF staff calculations.</text>
<text x="289.2" y="291.7" font-size="5.50" fill="#3c3c3c" text-anchor="start" font-weight="normal" textLength="186.2" lengthAdjust="spacingAndGlyphs" stroke="#3c3c3c" stroke-width="0.12">Note: This chart was constructed by fitting a skewed t distribution to percentiles of point</text>
<text x="289.2" y="297.6" font-size="5.50" fill="#3c3c3c" text-anchor="start" font-weight="normal" textLength="122.8" lengthAdjust="spacingAndGlyphs" stroke="#3c3c3c" stroke-width="0.12">forecasts, unlike the other charts which fit a kernel density.</text>
<text x="10.2" y="306.2" font-size="5.80" fill="#c8c8c8" text-anchor="start" font-weight="bold" textLength="120.9" lengthAdjust="spacingAndGlyphs" stroke="#c8c8c8" stroke-width="0.35">IMF | MONETARY AND CAPITAL MARKETS</text>
</svg>
</body></html>
